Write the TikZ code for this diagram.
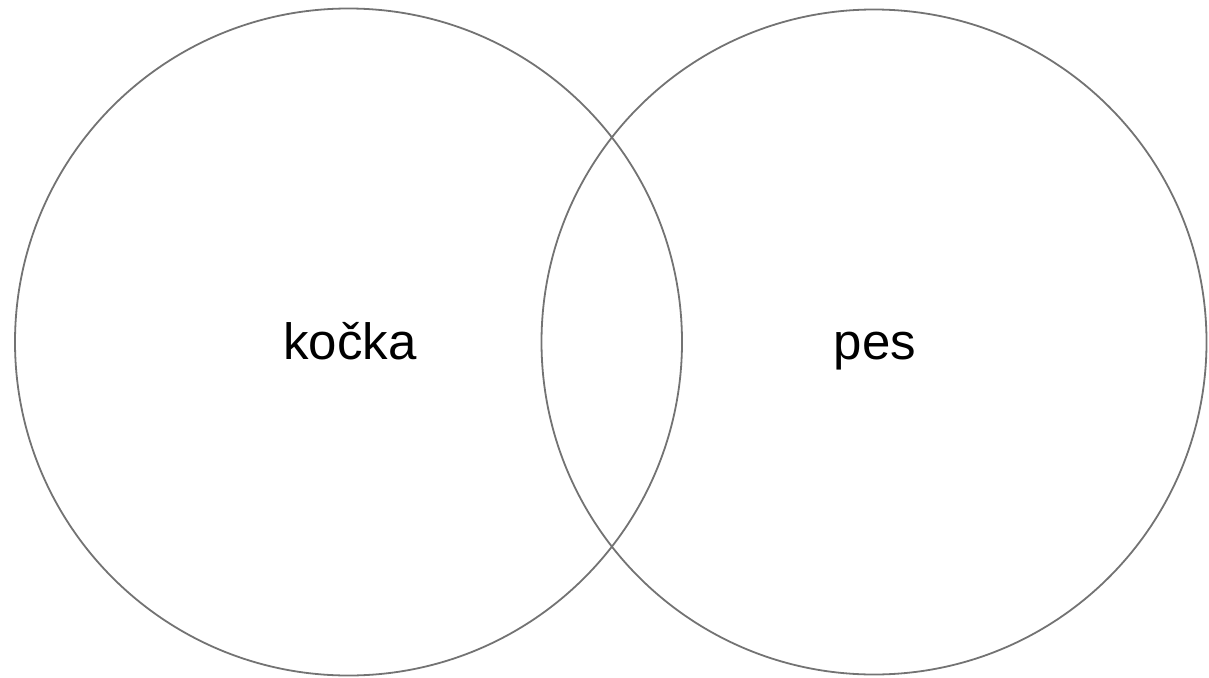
\documentclass[tikz,border=0pt]{standalone}
\usepackage{fontspec}
\setmainfont{Liberation Sans}
\begin{document}
\begin{tikzpicture}[x=1pt,y=-1pt,
  setcircle/.style={draw=black!55,line width=1.8pt},
  setlabel/.style={font=\fontsize{51}{60}\selectfont,text=black,anchor=base,inner sep=0pt}]
\useasboundingbox (0,0) rectangle (1209,677);
\node[setcircle,circle,minimum size=667pt,inner sep=0pt] (A) at (348.5,342) {};
\node[setcircle,circle,minimum size=665pt,inner sep=0pt] (B) at (874,342) {};
\node[setlabel] (ta) at (350,359) {kočka};
\node[setlabel] (tb) at (875,359) {pes};
\end{tikzpicture}
\end{document}
